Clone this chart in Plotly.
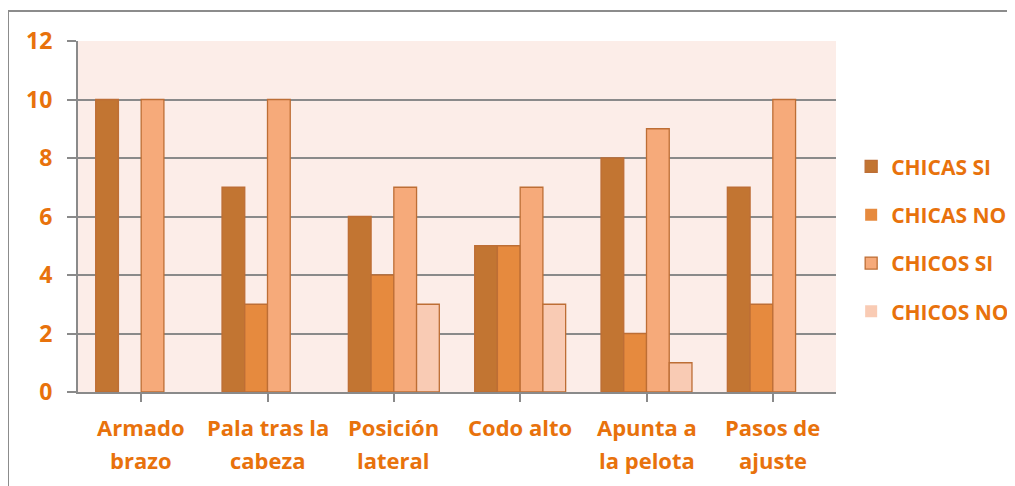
import plotly.graph_objects as go

categories = ["Armado<br>brazo", "Pala tras la<br>cabeza", "Posición<br>lateral",
              "Codo alto", "Apunta a<br>la pelota", "Pasos de<br>ajuste"]
series_names = ["CHICAS SI", "CHICAS NO", "CHICOS SI", "CHICOS NO"]
chicas_si = [10, 7, 6, 5, 8, 7]
chicas_no = [0, 3, 4, 5, 2, 3]
chicos_si = [10, 10, 7, 7, 9, 10]
chicos_no = [0, 0, 3, 3, 1, 0]
y_ticks = [0, 2, 4, 6, 8, 10, 12]

colors = ["#C27532", "#E68A3E", "#F6AA7A", "#F9CBB4"]
text_color = "#E8720C"
font_family = "'Open Sans', Lato, sans-serif"

# page body has an 8px margin; figure size/margins compensate for it
W, H = 1007, 478
L, T = 70, 33
PW, PH = 758, 351
R = W - L - PW
B = H - T - PH

fig = go.Figure()
for i, (name, vals) in enumerate(zip(series_names, [chicas_si, chicas_no, chicos_si, chicos_no])):
    fig.add_trace(go.Bar(
        x=list(range(len(categories))), y=vals, name=name,
        legendgroup=name,
        marker=dict(color=colors[i],
                    line=dict(color="#BD6E35", width=[1.3 if v else 0 for v in vals])),
    ))

annotations = []
for i, lab in enumerate(categories):
    for j, ln in enumerate(lab.split("<br>")):
        annotations.append(dict(
            x=i, y=0, xref="x", yref="y", text=ln, showarrow=False,
            yanchor="middle", xanchor="center", yshift=-35 - 33 * j,
            font=dict(family=font_family, size=22, color=text_color, weight="bold"),
        ))

fig.update_layout(
    width=W, height=H,
    margin=dict(l=L, r=R, t=T, b=B, autoexpand=False),
    paper_bgcolor="white",
    plot_bgcolor="#FCEDE8",
    barmode="group",
    bargap=0.28,
    bargroupgap=0,
    font=dict(family=font_family, color=text_color),
    legend=dict(
        x=1.02, y=0.70, xanchor="left", yanchor="top",
        font=dict(family=font_family, size=21, color=text_color, weight="bold"),
        tracegroupgap=18, itemwidth=30,
        bgcolor="rgba(0,0,0,0)",
    ),
    annotations=annotations,
    shapes=[dict(
        type="rect", xref="paper", yref="paper",
        x0=(0 - L) / PW, x1=(W + 20 - L) / PW,
        y0=-(B + 20) / PH, y1=1 + (T - 3) / PH,
        line=dict(color="#8C8C8C", width=2), layer="below",
    )],
    showlegend=True,
)

fig.update_xaxes(
    range=[-0.5, len(categories) - 0.5],
    tickmode="array", tickvals=list(range(len(categories))),
    showticklabels=False,
    tickson="boundaries", ticks="outside", ticklen=8, tickcolor="#8A8A8A", tickwidth=2,
    showline=True, linecolor="#8A8A8A", linewidth=2,
    showgrid=False, zeroline=False,
)
fig.update_yaxes(
    range=[0, 12], tickvals=y_ticks,
    ticks="outside", ticklen=9, tickcolor="#8A8A8A", tickwidth=2,
    tickfont=dict(family=font_family, size=23, color=text_color, weight="bold"),
    ticklabelstandoff=10,
    showline=True, linecolor="#8A8A8A", linewidth=2,
    showgrid=True, gridcolor="#8A8A8A", gridwidth=2,
    zeroline=False, automargin=False,
)

fig.write_html("out.html")
